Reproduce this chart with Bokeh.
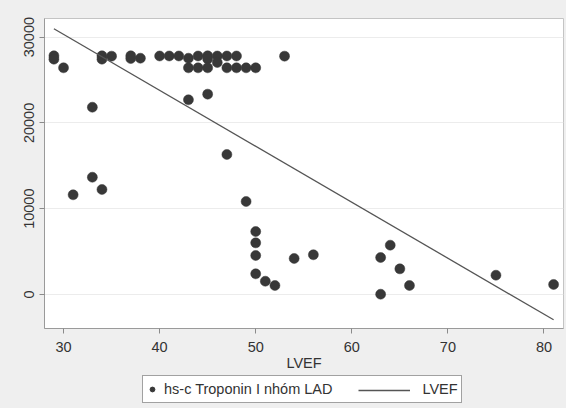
from bokeh.plotting import figure
from bokeh.models import Range1d, Legend, LegendItem, FixedTicker
from bokeh.layouts import column
from bokeh.embed import file_html
from bokeh.resources import INLINE

# Data
lvef = [29, 29, 30, 31, 33, 33, 34, 34, 34, 35, 37, 37, 38, 40, 41, 42,
        43, 43, 43, 44, 44, 45, 45, 45, 45, 46, 46, 47, 47, 47, 48, 48,
        49, 49, 50, 50, 50, 50, 50, 51, 52, 53, 54, 56, 63, 63, 64, 65,
        66, 75, 81]
troponin = [27820, 27430, 26420, 11620, 21830, 13670, 27820, 27430, 12240,
            27780, 27820, 27500, 27540, 27800, 27800, 27800,
            27540, 26420, 22690, 27800, 26420, 27820, 27450, 26420, 23350,
            27800, 27040, 27800, 26420, 16320, 27800, 26420,
            26420, 10840, 26420, 7340, 6020, 4550, 2410, 1550, 1050, 27780,
            4200, 4630, 4310, 35, 5750, 2990, 1050, 2250, 1170]
fit_x = [29, 81]
fit_y = [30970, -2950]
x_ticks = [30, 40, 50, 60, 70, 80]
y_ticks = [0, 10000, 20000, 30000]

FONT = "Liberation Sans"
TXT = "#333333"
FS = "14.5px"
BG = "#efefef"
DOT = "#383838"
LINE = "#555555"

p = figure(width=566, height=375, output_backend="svg", toolbar_location=None,
           x_range=Range1d(28.02, 82.03), y_range=Range1d(-3963, 32168),
           min_border_left=44, min_border_right=3, min_border_top=18,
           min_border_bottom=47)
p.background_fill_color = "white"
p.border_fill_color = BG
p.outline_line_color = "#c4c4c4"
p.outline_line_width = 1

p.scatter(lvef, troponin, size=10, fill_color=DOT, line_color=DOT, line_width=0.5)
p.line(fit_x, fit_y, line_color=LINE, line_width=1.3)

p.xgrid.visible = False
p.ygrid.grid_line_color = "#ececec"
p.ygrid.grid_line_width = 1

for ax in (p.xaxis[0], p.yaxis[0]):
    ax.axis_line_color = "#9a9a9a"
    ax.major_tick_line_color = "#8a8a8a"
    ax.major_tick_out = 5
    ax.major_tick_in = 0
    ax.minor_tick_line_color = None
    ax.major_label_text_font = FONT
    ax.major_label_text_font_size = FS
    ax.major_label_text_color = TXT
    ax.axis_label_text_font = FONT
    ax.axis_label_text_font_size = FS
    ax.axis_label_text_font_style = "normal"
    ax.axis_label_text_color = TXT

p.xaxis.ticker = FixedTicker(ticks=x_ticks)
p.yaxis.ticker = FixedTicker(ticks=y_ticks)
p.yaxis.major_label_orientation = "vertical"
p.xaxis.axis_label = "LVEF"
p.xaxis.axis_label_standoff = 0
p.xaxis.major_label_standoff = 8

# legend strip below the chart (frame aligned with the main chart's frame)
q = figure(width=566, height=33, output_backend="svg", toolbar_location=None,
           x_axis_location=None, y_axis_location=None,
           x_range=Range1d(0, 1), y_range=Range1d(0, 1),
           min_border_left=44, min_border_right=3, min_border_top=0,
           min_border_bottom=0)
q.background_fill_color = BG
q.border_fill_color = BG
q.outline_line_color = None
q.xgrid.visible = False
q.ygrid.visible = False
k_pts = q.scatter([-5], [-5], size=7, fill_color=DOT, line_color=DOT)
k_line = q.line([-5, -4], [-5, -5], line_color=LINE, line_width=1.3)
k_none = q.line([-5, -4], [-5, -5], line_alpha=0)

leg1 = Legend(items=[LegendItem(label="hs-c Troponin I nhóm LAD", renderers=[k_pts]),
                     LegendItem(label="LVEF", renderers=[k_none])],
              orientation="horizontal", location=(98, 5))
leg1.label_text_font = FONT
leg1.label_text_font_size = FS
leg1.label_text_color = TXT
leg1.border_line_color = "#444444"
leg1.border_line_width = 1
leg1.background_fill_color = "white"
leg1.glyph_width = 12
leg1.glyph_height = 20
leg1.label_height = 20
leg1.spacing = 72
leg1.padding = 3
leg1.margin = 0
leg1.label_standoff = 6
q.add_layout(leg1, "center")

leg2 = Legend(items=[LegendItem(label=" ", renderers=[k_line])],
              orientation="horizontal", location=(314, 8))
leg2.border_line_color = None
leg2.background_fill_alpha = 0
leg2.glyph_width = 52
leg2.glyph_height = 20
leg2.label_height = 20
leg2.label_standoff = 0
leg2.padding = 0
leg2.margin = 0
leg2.label_text_font_size = "1px"
q.add_layout(leg2, "center")

layout = column(p, q, spacing=0, styles={"background-color": BG})
open("out.html", "w").write(file_html(layout, INLINE))
